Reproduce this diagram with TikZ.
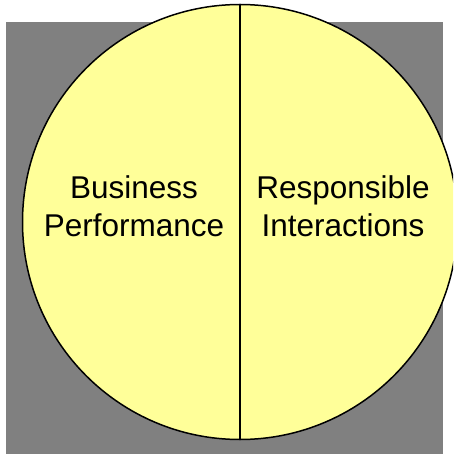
\documentclass[tikz,border=0pt]{standalone}
\usepackage{fontspec}
\setmainfont{Liberation Sans}
\usepackage{tikz}
\usetikzlibrary{positioning}
\usepackage{xcolor}
\definecolor{bggray}{RGB}{128,128,128}
\definecolor{pieyellow}{RGB}{255,255,153}
\tikzstyle{pie} = [circle, draw=black, fill=pieyellow, line width=1.5pt, minimum size=435pt, inner sep=0pt]
\tikzstyle{divider} = [line width=1.5pt, color=black]
\tikzstyle{halflabel} = [align=center, inner sep=0pt, font=\fontsize{31.5}{38}\selectfont]

\begin{document}
\begin{tikzpicture}[x=1pt, y=-1pt]
    % Frame
    \useasboundingbox (0,0) rectangle (453,454);
    \clip (0,0) rectangle (453,454);
    \fill[bggray] (6,22) rectangle (443,454);

    % Nodes
    \node[pie] (whole) at (240,222) {};
    \node[halflabel] (business) at (134,206) {Business\\Performance};
    \node[halflabel] (responsible) at (343,206) {Responsible\\Interactions};

    % Split
    \draw[divider] (whole.north) -- (whole.south);
\end{tikzpicture}
\end{document}
